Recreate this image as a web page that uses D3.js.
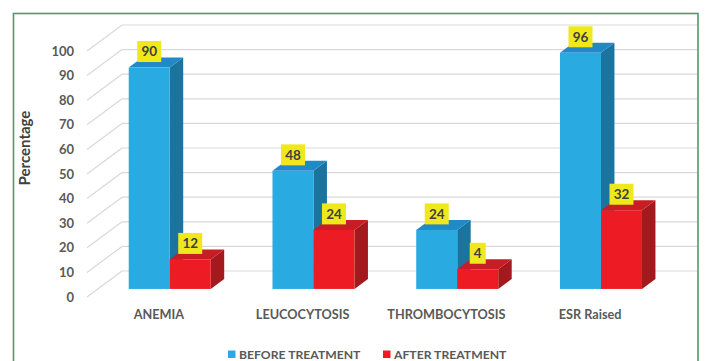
<!DOCTYPE html>
<html>
<head>
<meta charset="utf-8">
<script src="https://cdn.jsdelivr.net/npm/d3@7"></script>
<style>
  body { margin: 0; background: #fff; }
  text { font-family: Lato, "Open Sans", sans-serif; font-weight: bold; }
</style>
</head>
<body>
<div id="chart"></div>
<script>
// Chart data
const categories = ["ANEMIA", "LEUCOCYTOSIS", "THROMBOCYTOSIS", "ESR Raised"];
const seriesNames = ["BEFORE TREATMENT", "AFTER TREATMENT"];
const beforeValues = [90, 48, 24, 96];
// bar heights as drawn (the THROMBOCYTOSIS after-bar is drawn at ~8 though labelled 4)
const afterValues = [12, 24, 8, 32];
const beforeLabels = ["90", "48", "24", "96"];
const afterLabels = ["12", "24", "4", "32"];
const yTicks = [0, 10, 20, 30, 40, 50, 60, 70, 80, 90, 100];

const width = 705, height = 361;

// colours for each series: front, side, top
const faceColors = [
    { front: "#29abe2", side: "#1b74a0", top: "#1f8ac6" },
    { front: "#ed1c24", side: "#a3191e", top: "#c81d24" }
];

const svg = d3.select("#chart")
    .append("svg")
    .attr("width", width)
    .attr("height", height);

// green frame around chart (bottom edge is off the picture)
svg.append("rect")
    .attr("x", 13.5).attr("y", 13.5)
    .attr("width", 684.5).attr("height", 360)
    .attr("fill", "none")
    .attr("stroke", "#4e9a68")
    .attr("stroke-width", 1.6);

// 3D setup: front plane, and depth offset of the back wall
const depthX = 35, depthY = -26;
const y = d3.scaleLinear().domain([0, 100]).range([297, 51]);
const x0 = d3.scaleBand().domain(categories).range([87, 662]);
const x1 = d3.scaleBand().domain(seriesNames).range([-41, 41]);

// bars sit in the middle of the depth
const barFront = 0.31, barDepth = 0.385;
const bdx = depthX * barFront, bdy = depthY * barFront;
const sdx = depthX * barDepth, sdy = depthY * barDepth;

// gridlines: left wall diagonals and back wall lines
const grid = svg.append("g").attr("stroke", "#d9d9d9").attr("stroke-width", 1.2);
yTicks.forEach(t => {
    grid.append("line")
        .attr("x1", 87).attr("y1", y(t))
        .attr("x2", 87 + depthX).attr("y2", y(t) + depthY);
    grid.append("line")
        .attr("x1", 87 + depthX).attr("y1", y(t) + depthY)
        .attr("x2", 662 + depthX).attr("y2", y(t) + depthY);
});

// y tick labels
svg.append("g").selectAll("text")
    .data(yTicks)
    .enter().append("text")
    .attr("x", 74)
    .attr("y", d => y(d))
    .attr("dy", "0.35em")
    .attr("text-anchor", "end")
    .attr("font-size", 13)
    .attr("fill", "#595959")
    .text(d => d);

// y axis title
svg.append("text")
    .attr("transform", "translate(30,148) rotate(-90)")
    .attr("text-anchor", "middle")
    .attr("font-size", 15)
    .attr("fill", "#404040")
    .text("Percentage");

// bars
const barData = [];
categories.forEach((c, i) => {
    barData.push({ cat: c, s: 0, v: beforeValues[i], label: beforeLabels[i] });
    barData.push({ cat: c, s: 1, v: afterValues[i], label: afterLabels[i] });
});

const bars = svg.append("g");
barData.forEach(d => {
    const left = x0(d.cat) + x0.bandwidth() / 2 + x1(seriesNames[d.s]) + bdx;
    const right = left + x1.bandwidth();
    const top = y(d.v) + bdy;
    const bottom = y(0) + bdy;
    const col = faceColors[d.s];
    const g = bars.append("g");
    g.append("polygon")
        .attr("points", [[right, top], [right + sdx, top + sdy], [right + sdx, bottom + sdy], [right, bottom]].join(" "))
        .attr("fill", col.side);
    g.append("polygon")
        .attr("points", [[left, top], [left + sdx, top + sdy], [right + sdx, top + sdy], [right, top]].join(" "))
        .attr("fill", col.top);
    g.append("rect")
        .attr("x", left).attr("y", top)
        .attr("width", right - left).attr("height", bottom - top)
        .attr("fill", col.front);
    d.cx = (left + right) / 2;
    d.ly = top - 16;
});

// value labels in yellow boxes
const labels = svg.append("g");
barData.forEach(d => {
    const w = d.label.length * 8 + 8;
    labels.append("rect")
        .attr("x", d.cx - w / 2).attr("y", d.ly - 10.5)
        .attr("width", w).attr("height", 21)
        .attr("fill", "#efe81c");
    labels.append("text")
        .attr("x", d.cx).attr("y", d.ly)
        .attr("dy", "0.36em")
        .attr("text-anchor", "middle")
        .attr("font-size", 13.5)
        .attr("fill", "#404040")
        .text(d.label);
});

// category labels
svg.append("g").selectAll("text")
    .data(categories)
    .enter().append("text")
    .attr("x", d => x0(d) + x0.bandwidth() / 2)
    .attr("y", 315)
    .attr("dy", "0.35em")
    .attr("text-anchor", "middle")
    .attr("font-size", 12.7)
    .attr("fill", "#595959")
    .text(d => d);

// legend
const legendX = [228, 383];
const legend = svg.append("g");
seriesNames.forEach((s, i) => {
    legend.append("rect")
        .attr("x", legendX[i]).attr("y", 350.5)
        .attr("width", 7.5).attr("height", 7.5)
        .attr("fill", faceColors[i].front);
    legend.append("text")
        .attr("x", legendX[i] + 11).attr("y", 354.5)
        .attr("dy", "0.35em")
        .attr("font-size", 12.2)
        .attr("fill", "#595959")
        .text(s);
});
</script>
</body>
</html>
